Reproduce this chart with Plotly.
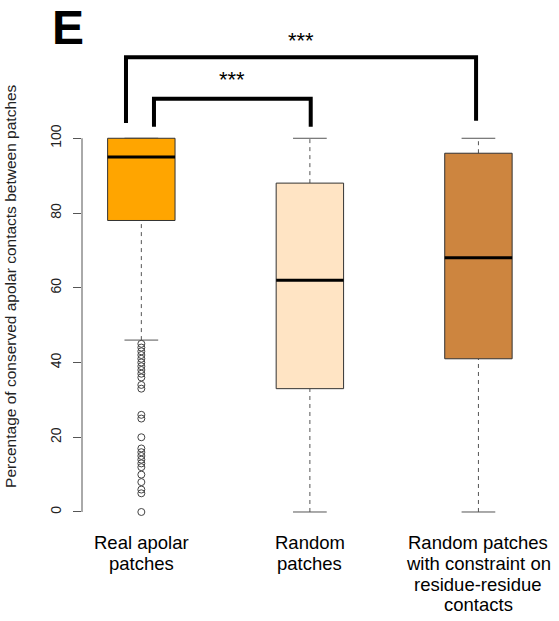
import plotly.graph_objects as go

# ---- data ----
categories = ["Real apolar|patches", "Random|patches",
              "Random patches|with constraint on|residue-residue|contacts"]
q1 = [78, 33, 41]
median = [95, 62, 68]
q3 = [100, 88, 96]
lower_whisker = [46, 0, 0]
upper_whisker = [100, 100, 100]
box_colors = ["#FFA500", "#FFE4C4", "#CD853F"]
outliers_real = [45, 44, 43, 42, 41, 40, 39, 38, 37, 36, 34, 33, 26, 25, 20,
                 17, 16, 15, 14, 13, 12, 10, 8, 6, 5, 0]
y_ticks = [0, 20, 40, 60, 80, 100]
ylabel = "Percentage of conserved apolar contacts between patches"

# significance brackets: (x_left, x_right, y_top, y_left_end, y_right_end, label, label_y)
brackets = [
    (1.075, 2.005, 110.6, 103.1, 103.1, "***", 115.8),
    (0.909, 2.986, 121.7, 104.1, 104.7, "***", 126.1),
]

pos = [1, 2, 3]
bw = 0.4
cap = 0.2

fig = go.Figure()
shapes = []
for i, p in enumerate(pos):
    # whiskers (dashed)
    fig.add_trace(go.Scatter(x=[p, p], y=[q3[i], upper_whisker[i]], mode="lines",
                             line=dict(color="#555555", width=1, dash="4px,4px"),
                             hoverinfo="skip", showlegend=False))
    fig.add_trace(go.Scatter(x=[p, p], y=[lower_whisker[i], q1[i]], mode="lines",
                             line=dict(color="#555555", width=1, dash="4px,4px"),
                             hoverinfo="skip", showlegend=False))
    # caps
    for v in (lower_whisker[i], upper_whisker[i]):
        fig.add_trace(go.Scatter(x=[p - cap / 2, p + cap / 2], y=[v, v], mode="lines",
                                 line=dict(color="#555555", width=1),
                                 hoverinfo="skip", showlegend=False))
    # box
    shapes.append(dict(type="rect", xref="x", yref="y", x0=p - bw / 2, x1=p + bw / 2,
                       y0=q1[i], y1=q3[i], fillcolor=box_colors[i],
                       line=dict(color="#333333", width=1), layer="above"))
    # median
    shapes.append(dict(type="line", xref="x", yref="y", x0=p - bw / 2, x1=p + bw / 2,
                       y0=median[i], y1=median[i], line=dict(color="black", width=3),
                       layer="above"))

# outliers
fig.add_trace(go.Scatter(x=[pos[0]] * len(outliers_real), y=outliers_real, mode="markers",
                         marker=dict(symbol="circle-open", size=7, color="#444444",
                                     line=dict(width=1)),
                         hoverinfo="skip", showlegend=False))

# y-axis line from first to last tick
shapes.append(dict(type="line", xref="paper", yref="y", x0=0, x1=0,
                   y0=y_ticks[0], y1=y_ticks[-1], line=dict(color="#555555", width=1)))

annotations = []
for (xl, xr, yt, yle, yre, lab, ly) in brackets:
    fig.add_trace(go.Scatter(x=[xl, xl, xr, xr], y=[yle, yt, yt, yre], mode="lines",
                             line=dict(color="black", width=4),
                             hoverinfo="skip", showlegend=False))
    annotations.append(dict(x=(xl + xr) / 2, y=ly, xref="x", yref="y", text=lab,
                            showarrow=False, font=dict(size=22, color="black",
                                                       family="Liberation Sans")))

# category labels (line by line)
line_h = 20.7
for i, c in enumerate(categories):
    for j, ln in enumerate(c.split("|")):
        annotations.append(dict(x=pos[i], y=0, xref="x", yref="paper", text=ln,
                                showarrow=False, yanchor="middle", xanchor="center",
                                yshift=-(17.7 + j * line_h),
                                font=dict(size=18.5, color="black",
                                          family="Liberation Sans")))

# y-axis title
annotations.append(dict(x=0, y=60.5, xref="paper", yref="y", text=ylabel, textangle=-90,
                        showarrow=False, xanchor="center", yanchor="middle", xshift=-71,
                        font=dict(size=15.5, color="#222222", family="Liberation Sans")))
# panel letter
annotations.append(dict(x=0, y=1, xref="paper", yref="paper", text="<b>E</b>",
                        showarrow=False, xanchor="center", yanchor="middle",
                        xshift=68 - 82, yshift=-27,
                        font=dict(size=48, color="black", family="Liberation Sans")))

fig.update_layout(
    width=559, height=621,
    margin=dict(l=82, r=0, t=0, b=96),
    plot_bgcolor="white", paper_bgcolor="white",
    shapes=shapes, annotations=annotations,
    xaxis=dict(range=[0.648, 3.478], showgrid=False, zeroline=False, showline=False,
               showticklabels=False, ticks=""),
    yaxis=dict(range=[-3.48, 137], showgrid=False, zeroline=False, showline=False,
               tickvals=y_ticks, ticks="outside", ticklen=8, tickcolor="#555555",
               tickangle=-90, ticklabelstandoff=6,
               tickfont=dict(size=14, color="#222222", family="Liberation Sans")),
    font=dict(family="Liberation Sans"),
)

fig.write_html("out.html")
